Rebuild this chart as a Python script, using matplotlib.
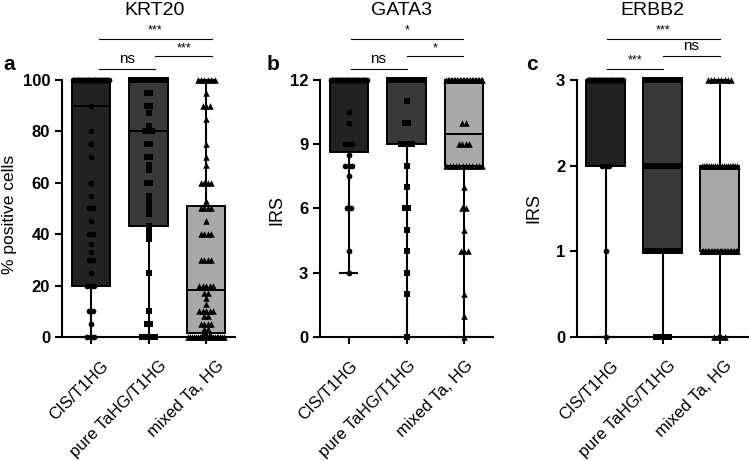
import numpy as np
import matplotlib
matplotlib.use("Agg")
import matplotlib.pyplot as plt
from matplotlib.transforms import ScaledTranslation

plt.rcParams["font.family"] = ["Liberation Sans", "DejaVu Sans"]

GROUPS = ["CIS/T1HG", "pure TaHG/T1HG", "mixed Ta, HG"]
BOX_COLORS = ["#222222", "#393939", "#a9a9a9"]
MARKERS = ["o", "s", "^"]

# ---- KRT20 (% positive cells) ----
KRT20_CIS_VALS = [100, 90, 80, 75, 70, 60, 55, 50, 45, 40, 36, 33, 30, 25, 20, 10, 5, 0]
KRT20_CIS_N = [30, 1, 1, 1, 1, 1, 1, 2, 1, 2, 1, 1, 2, 1, 3, 2, 1, 3]
KRT20_PURE_VALS = [100, 95, 90, 87, 82, 80, 75, 70, 67, 65, 60, 55, 53, 52, 50, 48, 43,
                   41, 40, 39, 38, 25, 10, 5, 0]
KRT20_PURE_N = [30, 2, 2, 1, 1, 3, 2, 2, 1, 1, 2, 1, 1, 1, 1, 1, 1,
                1, 1, 1, 1, 1, 1, 2, 5]
KRT20_MIX_VALS = [100, 95, 90, 85, 75, 70, 67, 60, 53, 50, 45, 40, 30, 20, 17, 15, 13,
                  10, 8, 5, 3, 1, 0]
KRT20_MIX_N = [6, 1, 3, 1, 1, 1, 1, 4, 1, 4, 1, 4, 4, 5, 2, 1, 1,
               5, 2, 4, 2, 3, 20]
KRT20_MIN = [0, 0, 0]
KRT20_Q1 = [20, 43.2, 1.5]
KRT20_MED = [90, 80, 18.3]
KRT20_Q3 = [100, 100, 51]
KRT20_MAX = [100, 100, 100]
KRT20_SIG = ["***", "***", "ns"]   # top, middle, lower bracket

# ---- GATA3 (IRS) ----
GATA3_CIS_VALS = [12, 10.5, 10, 9, 8.5, 8, 7.5, 6, 4, 3]
GATA3_CIS_N = [30, 1, 1, 3, 1, 3, 1, 2, 1, 1]
GATA3_PURE_VALS = [12, 11, 10, 9, 8, 7, 6, 5, 4, 3, 2, 0]
GATA3_PURE_N = [30, 1, 2, 4, 1, 1, 2, 1, 1, 1, 1, 1]
GATA3_MIX_VALS = [12, 10, 9, 8, 7, 6, 5, 4, 2, 1, 0]
GATA3_MIX_N = [25, 2, 4, 12, 1, 2, 1, 3, 1, 1, 1]
GATA3_MIN = [3, 0, 0]
GATA3_Q1 = [8.65, 9, 8]
GATA3_MED = [12, 12, 9.5]
GATA3_Q3 = [12, 12, 12]
GATA3_MAX = [12, 12, 12]
GATA3_SIG = ["*", "*", "ns"]

# ---- ERBB2 (IRS) ----
ERBB2_CIS_VALS = [3, 2, 1, 0]
ERBB2_CIS_N = [30, 3, 1, 1]
ERBB2_PURE_VALS = [3, 2, 1, 0]
ERBB2_PURE_N = [30, 25, 25, 5]
ERBB2_MIX_VALS = [3, 2, 1, 0]
ERBB2_MIX_N = [8, 20, 25, 4]
ERBB2_MIN = [0, 0, 0]
ERBB2_Q1 = [2, 1, 1]
ERBB2_MED = [3, 2, 1]
ERBB2_Q3 = [3, 3, 2]
ERBB2_MAX = [3, 3, 3]
ERBB2_SIG = ["***", "ns", "***"]


def swarm(vals, counts, center, step=0.06, half=0.31):
    xs, ys = [], []
    for v, n in zip(vals, counts):
        span = min((n - 1) * step, 2 * half)
        off = np.linspace(-span / 2, span / 2, n) if n > 1 else np.array([0.0])
        xs.extend(center + off)
        ys.extend([v] * n)
    return np.array(xs), np.array(ys)


def draw_panel(ax, points, mins, q1s, meds, q3s, maxs, ymax, yticks, label_dx):
    stats = [dict(whislo=lo, q1=a, med=m, q3=b, whishi=hi)
             for lo, a, m, b, hi in zip(mins, q1s, meds, q3s, maxs)]
    bp = ax.bxp(stats, positions=[0, 1, 2], widths=0.67, capwidths=0.3,
                patch_artist=True, showfliers=False,
                boxprops=dict(edgecolor="black", linewidth=1.4),
                whiskerprops=dict(color="black", linewidth=1.5),
                capprops=dict(color="black", linewidth=1.5),
                medianprops=dict(color="black", linewidth=1.4))
    for patch, c in zip(bp["boxes"], BOX_COLORS):
        patch.set_facecolor(c)
    for key in bp:
        for art in bp[key]:
            art.set_clip_on(False)
    for i, (vals, counts) in enumerate(points):
        x, y = swarm(vals, counts, i)
        s = 22 if MARKERS[i] == "^" else 17
        ax.scatter(x, y, marker=MARKERS[i], s=s, color="black", linewidths=0,
                   zorder=4, clip_on=False)

    ax.set_xlim(-0.5, 2.5)
    ax.set_ylim(0, ymax)
    ax.set_yticks(yticks)
    ax.set_xticks([0, 1, 2])
    ax.set_xticklabels([])
    # rotated group labels, placed by hand so they hang like the original
    shift = ScaledTranslation(label_dx / 100, -21 / 100, ax.figure.dpi_scale_trans)
    for i, g in enumerate(GROUPS):
        ax.text(i, 0, g, transform=ax.get_xaxis_transform() + shift, rotation=45,
                ha="right", va="top", rotation_mode="anchor", fontsize=12)
    for lab in ax.get_yticklabels():
        lab.set_fontweight("bold")
        lab.set_fontsize(12)
    ax.spines[["top", "right"]].set_visible(False)
    ax.spines[["left", "bottom"]].set_linewidth(1.5)
    ax.tick_params(axis="both", width=1.5, length=5, direction="out")


def brackets(ax, spans, labels):
    tr = ax.get_xaxis_transform()
    heights = [1.16, 1.093, 1.043]
    for (x0, x1), lab, h in zip(spans, labels, heights):
        ax.plot([x0, x1], [h, h], color="black", lw=0.8, transform=tr, clip_on=False)
        if lab == "ns":
            ax.text((x0 + x1) / 2, h + 0.012, lab, transform=tr, ha="center",
                    va="bottom", fontsize=11)
        else:
            ax.text((x0 + x1) / 2, h + 0.008, lab, transform=tr, ha="center",
                    va="bottom", fontsize=9)


fig = plt.figure(figsize=(7.49, 4.61), dpi=100)
W, H = 749, 461
ax_a = fig.add_axes([62 / W, 124 / H, 173 / W, 257 / H])
ax_b = fig.add_axes([320 / W, 124 / H, 173 / W, 257 / H])
ax_c = fig.add_axes([577 / W, 124 / H, 171 / W, 257 / H])

draw_panel(ax_a,
           [(KRT20_CIS_VALS, KRT20_CIS_N), (KRT20_PURE_VALS, KRT20_PURE_N),
            (KRT20_MIX_VALS, KRT20_MIX_N)],
           KRT20_MIN, KRT20_Q1, KRT20_MED, KRT20_Q3, KRT20_MAX, 100,
           [0, 20, 40, 60, 80, 100], 10)
draw_panel(ax_b,
           [(GATA3_CIS_VALS, GATA3_CIS_N), (GATA3_PURE_VALS, GATA3_PURE_N),
            (GATA3_MIX_VALS, GATA3_MIX_N)],
           GATA3_MIN, GATA3_Q1, GATA3_MED, GATA3_Q3, GATA3_MAX, 12,
           [0, 3, 6, 9, 12], 1)
draw_panel(ax_c,
           [(ERBB2_CIS_VALS, ERBB2_CIS_N), (ERBB2_PURE_VALS, ERBB2_PURE_N),
            (ERBB2_MIX_VALS, ERBB2_MIX_N)],
           ERBB2_MIN, ERBB2_Q1, ERBB2_MED, ERBB2_Q3, ERBB2_MAX, 3,
           [0, 1, 2, 3], 5)

brackets(ax_a, [(0.14, 2.1), (1.12, 2.1), (0.14, 1.12)], KRT20_SIG)
brackets(ax_b, [(0.03, 1.98), (1.0, 1.98), (0.03, 1.0)], GATA3_SIG)
brackets(ax_c, [(0.03, 2.0), (1.0, 2.0), (0.03, 1.0)], ERBB2_SIG)

for ax, title, tx in [(ax_a, "KRT20", 1.1), (ax_b, "GATA3", 0.92), (ax_c, "ERBB2", 0.82)]:
    ax.text(tx, 1.272, title, transform=ax.get_xaxis_transform(), ha="center",
            va="center", fontsize=14)

ax_a.set_ylabel("% positive cells", fontsize=12.5)
ax_a.yaxis.set_label_coords(-0.262, 0.475)
ax_b.set_ylabel("IRS", fontsize=13)
ax_b.yaxis.set_label_coords(-0.2, 0.494)
ax_c.set_ylabel("IRS", fontsize=13)
ax_c.yaxis.set_label_coords(-0.2, 0.502)

for letter, px in [("a", 3), ("b", 267), ("c", 526)]:
    fig.text(px / W, 1 - 65 / H, letter, ha="left", va="center", fontsize=15,
             fontweight="bold")

fig.savefig("out.png", dpi=100)
